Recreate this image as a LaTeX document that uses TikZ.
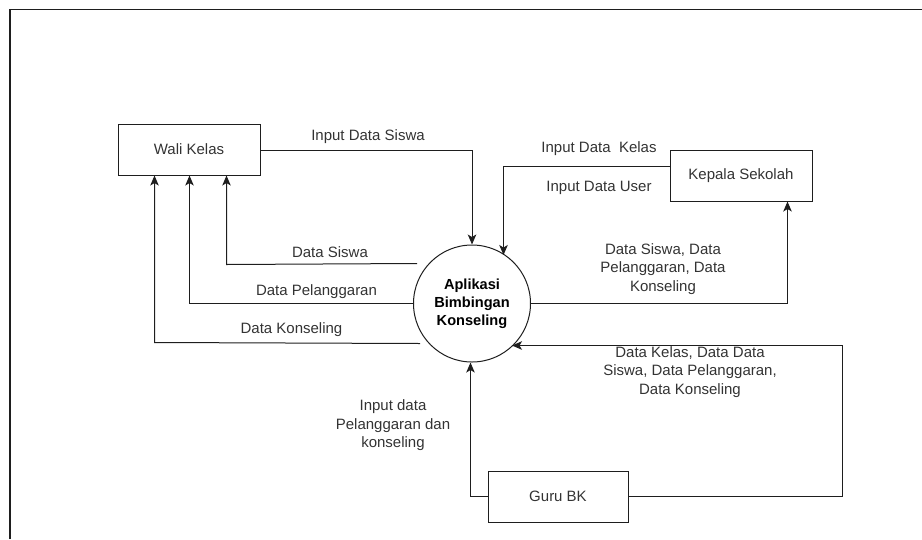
\documentclass[tikz,border=0pt]{standalone}
\usepackage{fontspec}
\setmainfont{Liberation Sans}
\usetikzlibrary{arrows.meta}
\definecolor{ink}{HTML}{1E1E1E}
\definecolor{txt}{HTML}{333333}
\tikzset{
  x=1pt, y=-1pt,
  entity/.style={draw=ink, line width=1pt, minimum width=142pt, minimum height=51pt, inner sep=0pt, text=txt, font=\fontsize{15}{18}\selectfont},
  proc/.style={draw=ink, line width=1pt, circle, minimum size=117pt, inner sep=0pt, align=center, text=black, font=\fontsize{14.6}{18}\selectfont\bfseries},
  flow/.style={draw=ink, line width=1pt, -{Stealth[length=10pt, width=8.5pt, inset=2.5pt]}},
  lbl/.style={text=txt, align=center, inner sep=0pt, font=\fontsize{15}{18.5}\selectfont},
}
\begin{document}
\begin{tikzpicture}
\useasboundingbox (0,0) rectangle (922,539);
% outer frame (clipped at right and bottom)
\coordinate (fbl) at (10,539);
\coordinate (ftl) at (10,9.5);
\coordinate (ftr) at (922,9.5);
\draw[ink, line width=1.3pt] (fbl) -- (ftl) -- (ftr);

\node[entity] (wali) at (189,149.5) {Wali Kelas};
\node[entity, minimum width=142pt] (kepala) at (741,175.5) {Kepala Sekolah};
\node[entity, minimum width=140pt] (guru) at (558,496.5) {Guru BK};
\node[proc] (app) at (472,303.5) {Aplikasi\\Bimbingan\\Konseling};

% Wali Kelas -> App
\draw[flow] (wali.east |- 0,150.5) -| (app.north);
\node[lbl] (l1) at (368,136.5) {Input Data Siswa};

% Kepala Sekolah -> App
\draw[flow] (kepala.west |- 0,166.5) -| (503.5,255);
\node[lbl] (l2) at (599,149) {Input Data\ \ Kelas};
\node[lbl] (l3) at (599,188) {Input Data User};

% App -> Wali Kelas
\coordinate (s1) at (417,263.5);
\coordinate (s2) at (413.5,303.5);
\coordinate (s3) at (420,343.5);
\draw[flow] (s1) -- (226.5,264.5) -- (226.5,0 |- wali.south);
\draw[flow] (s2) -- (189.5,303.5) -- (189.5,0 |- wali.south);
\draw[flow] (s3) -- (154.5,342.5) -- (154.5,0 |- wali.south);
\node[lbl] (l4) at (330,252.5) {Data Siswa};
\node[lbl] (l5) at (316.5,291.5) {Data Pelanggaran};
\node[lbl] (l6) at (291.5,330) {Data Konseling};

% App -> Kepala Sekolah
\draw[flow] (app.east) -- (787.5,303.5) -- (787.5,0 |- kepala.south);
\node[lbl] (l7) at (663,269) {Data Siswa, Data\\Pelanggaran, Data\\Konseling};

% Guru BK -> App
\draw[flow] (guru.west) -- (470.5,496.5) -- (470.5,0 |- app.south);
\node[lbl] (l8) at (393,425.5) {Input data\\Pelanggaran dan\\konseling};
\coordinate (g1) at (842.5,496.5);
\coordinate (g2) at (842.5,345.5);
\draw[flow] (guru.east) -- (g1) -- (g2) -- (512,345.5);
\node[lbl] (l9) at (690,372) {Data Kelas, Data Data\\Siswa, Data Pelanggaran,\\Data Konseling};
\end{tikzpicture}
\end{document}
